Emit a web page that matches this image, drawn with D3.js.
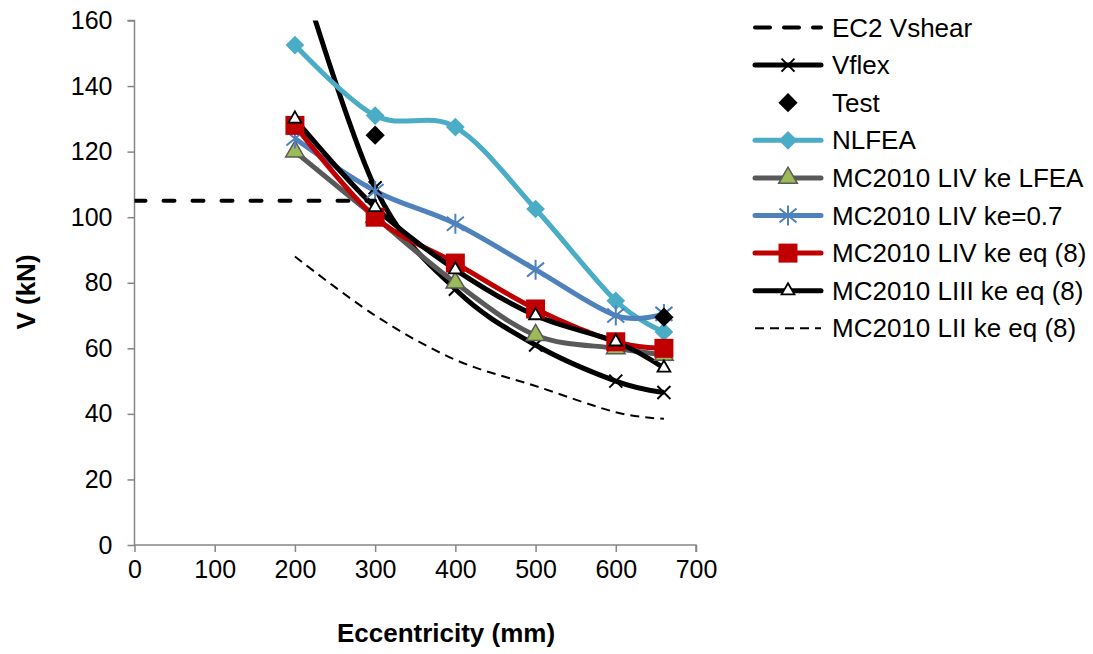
<!DOCTYPE html>
<html>
<head>
<meta charset="utf-8">
<script src="https://cdn.jsdelivr.net/npm/d3@7/dist/d3.min.js"></script>
<style>
  body { margin: 0; background: #ffffff; }
  text { font-family: "Liberation Sans", Arial, sans-serif; fill: #000000; }
</style>
</head>
<body>
<div id="chart"></div>
<script>
// x values (mm)
var ecc = [200, 300, 400, 500, 600, 660];
var ec2Ecc = [0, 300];
var testEcc = [300, 660];

// series values (kN)
var ec2Vshear = [105, 105];
var vflex = [180, 109, 78, 61, 50, 46.5];
var test = [125, 69.5];
var nlfea = [152.5, 131, 127.5, 102.5, 74.5, 65];
var livLfea = [120, 100, 80, 64, 60, 58];
var liv07 = [124, 108, 98, 84, 70, 70.5];
var livEq8 = [128, 100, 86, 72, 62, 60];
var liiiEq8 = [130, 103, 84, 70, 62, 54];
var liiEq8 = [88, 70, 56.5, 48.5, 40.5, 38.5];

// tick labels
var xTicks = [0, 100, 200, 300, 400, 500, 600, 700];
var yTicks = [0, 20, 40, 60, 80, 100, 120, 140, 160];

var names = ["EC2 Vshear", "Vflex", "Test", "NLFEA", "MC2010 LIV ke LFEA",
  "MC2010 LIV ke=0.7", "MC2010 LIV ke eq (8)", "MC2010 LIII ke eq (8)", "MC2010 LII ke eq (8)"];

var width = 1093, height = 654;

var x = d3.scaleLinear().domain([0, 700]).range([134.5, 696]);
var y = d3.scaleLinear().domain([0, 160]).range([545, 20.5]);

var svg = d3.select("#chart").append("svg")
  .attr("width", width)
  .attr("height", height);

svg.append("clipPath").attr("id", "plot-clip")
  .append("rect")
  .attr("x", x(0)).attr("y", y(160))
  .attr("width", x(700) - x(0)).attr("height", y(0) - y(160));

//Axes
var axisColor = "#868686";
var xAxis = d3.axisBottom(x).tickValues(xTicks).tickSize(7).tickPadding(8).tickFormat(d3.format("d"));
var yAxis = d3.axisLeft(y).tickValues(yTicks).tickSize(7).tickPadding(15).tickFormat(d3.format("d"));

var gx = svg.append("g").attr("transform", "translate(0," + y(0) + ")").call(xAxis);
var gy = svg.append("g").attr("transform", "translate(" + x(0) + ",0)").call(yAxis);
[gx, gy].forEach(function (g) {
  g.select(".domain").attr("stroke", axisColor).attr("stroke-width", 1.5);
  g.selectAll(".tick line").attr("stroke", axisColor).attr("stroke-width", 1.5);
  g.selectAll(".tick text")
    .style("font-family", "Liberation Sans, Arial, sans-serif")
    .style("font-size", "25px")
    .attr("fill", "#000");
});
gy.select(".domain").attr("d", "M-7," + y(160) + "H0V" + y(0));
gx.select(".domain").attr("d", "M" + x(0) + ",0H" + x(700) + "V7");

//Axis titles
svg.append("text")
  .attr("x", 446).attr("y", 642)
  .attr("text-anchor", "middle")
  .style("font-size", "26px").style("font-weight", "bold")
  .text("Eccentricity (mm)");

svg.append("text")
  .attr("transform", "translate(35,292) rotate(-90)")
  .attr("text-anchor", "middle")
  .style("font-size", "26px").style("font-weight", "bold")
  .text("V (kN)");

//Marker drawing
function drawMarker(g, type, cx, cy) {
  var m = g.append("g").attr("transform", "translate(" + cx + "," + cy + ")");
  if (type === "x") {
    m.append("path").attr("d", "M-6.5,-6.5L6.5,6.5M-6.5,6.5L6.5,-6.5")
      .attr("stroke", "#000").attr("stroke-width", 2).attr("fill", "none");
  } else if (type === "test") {
    m.append("path").attr("d", d3.symbol(d3.symbolSquare, 185)())
      .attr("transform", "rotate(45)").attr("fill", "#000");
  } else if (type === "nlfea") {
    m.append("path").attr("d", d3.symbol(d3.symbolSquare, 175)())
      .attr("transform", "rotate(45)").attr("fill", "#4BACC6");
  } else if (type === "tri") {
    m.append("path").attr("d", d3.symbol(d3.symbolTriangle, 150)())
      .attr("fill", "#9BBB59").attr("stroke", "#595959").attr("stroke-width", 1.5);
  } else if (type === "star") {
    m.append("path").attr("d", "M0,-10V10M-8.5,-7L8.5,7M-8.5,7L8.5,-7")
      .attr("stroke", "#4F81BD").attr("stroke-width", 2).attr("fill", "none");
  } else if (type === "square") {
    m.append("path").attr("d", d3.symbol(d3.symbolSquare, 361)())
      .attr("fill", "#C00000");
  } else if (type === "opentri") {
    m.append("path").attr("d", d3.symbol(d3.symbolTriangle, 72)())
      .attr("fill", "#fff").attr("stroke", "#000").attr("stroke-width", 1.8);
  }
}

var series = [
  { xs: ec2Ecc, ys: ec2Vshear, color: "#000", w: 4, dash: "11,18", cap: "round", smooth: false, marker: null },
  { xs: ecc, ys: vflex, color: "#000", w: 5, dash: null, marker: "x", smooth: true },
  { xs: testEcc, ys: test, color: null, marker: "test" },
  { xs: ecc, ys: nlfea, color: "#4BACC6", w: 5, dash: null, marker: "nlfea", smooth: true },
  { xs: ecc, ys: livLfea, color: "#595959", w: 5, dash: null, marker: "tri", smooth: true },
  { xs: ecc, ys: liv07, color: "#4F81BD", w: 5, dash: null, marker: "star", smooth: true },
  { xs: ecc, ys: livEq8, color: "#C00000", w: 5, dash: null, marker: "square", smooth: true },
  { xs: ecc, ys: liiiEq8, color: "#000", w: 5, dash: null, marker: "opentri", smooth: true },
  { xs: ecc, ys: liiEq8, color: "#000", w: 2, dash: "9,6", marker: null, smooth: true }
];

var plot = svg.append("g").attr("clip-path", "url(#plot-clip)");

//Lines first
series.forEach(function (s) {
  if (!s.color) return;
  var pts = s.xs.map(function (d, i) { return [d, s.ys[i]]; });
  var line = d3.line()
    .x(function (d) { return x(d[0]); })
    .y(function (d) { return y(d[1]); })
    .curve(s.smooth ? d3.curveCardinal.tension(0) : d3.curveLinear);
  plot.append("path")
    .datum(pts)
    .attr("d", line)
    .attr("fill", "none")
    .attr("stroke", s.color)
    .attr("stroke-width", s.w)
    .attr("stroke-linejoin", "round")
    .attr("stroke-linecap", s.cap || "butt")
    .attr("stroke-dasharray", s.dash);
});

//Then markers, the Test points on top
var markerLayer = svg.append("g");
var order = [1, 3, 4, 5, 6, 7, 2];
order.forEach(function (k) {
  var s = series[k];
  s.xs.forEach(function (d, i) {
    if (s.ys[i] > 160) return;
    drawMarker(markerLayer, s.marker, x(d), y(s.ys[i]));
  });
});

//Legend
var legend = svg.append("g");
series.forEach(function (s, i) {
  var ly = 27.5 + i * 37.6;
  if (s.color) {
    legend.append("line")
      .attr("x1", 755).attr("x2", 821).attr("y1", ly).attr("y2", ly)
      .attr("stroke", s.color)
      .attr("stroke-width", s.w)
      .attr("stroke-linecap", s.dash ? (s.cap || "butt") : "round")
      .attr("stroke-dasharray", i === 0 ? "15,14" : s.dash);
  }
  if (s.marker) drawMarker(legend, s.marker, 788, ly);
  legend.append("text")
    .attr("x", 832).attr("y", ly)
    .attr("dy", "0.35em")
    .style("font-size", "26px")
    .text(names[i]);
});
</script>
</body>
</html>
